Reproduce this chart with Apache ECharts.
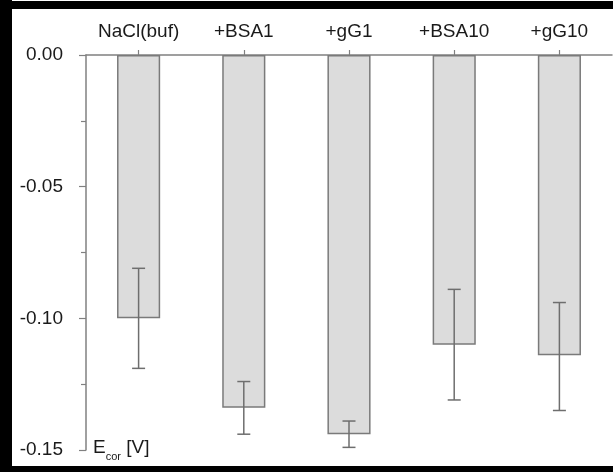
<!DOCTYPE html>
<html>
<head>
<meta charset="utf-8">
<script src="https://cdn.jsdelivr.net/npm/echarts@6/dist/echarts.min.js"></script>
<style>
html,body{margin:0;padding:0;background:#fff;}
#chart{width:613px;height:472px;}
</style>
</head>
<body>
<div id="chart"></div>
<script>
const categories = ['NaCl(buf)', '+BSA1', '+gG1', '+BSA10', '+gG10'];
const meanValues = [-0.100, -0.134, -0.144, -0.110, -0.114];
const errUpper = [-0.081, -0.124, -0.139, -0.089, -0.094];
const errLower = [-0.119, -0.144, -0.149, -0.131, -0.135];
const yTicks = [0, -0.05, -0.10, -0.15];

const errData = categories.map((c, i) => [i, errLower[i], errUpper[i]]);
const font = 'Liberation Sans, Arial, sans-serif';
const axisColor = '#808080';

const chart = echarts.init(document.getElementById('chart'), null, {renderer: 'canvas'});
chart.setOption({
  animation: false,
  backgroundColor: '#ffffff',
  grid: {left: 86, right: 1, top: 55, bottom: 22, containLabel: false},
  xAxis: {
    type: 'category',
    position: 'top',
    data: categories,
    boundaryGap: true,
    axisLine: {show: true, lineStyle: {color: axisColor, width: 1.5}},
    axisTick: {show: true, alignWithLabel: true, interval: 0, inside: false, length: 5, lineStyle: {color: axisColor, width: 1.2}},
    axisLabel: {show: true, interval: 0, hideOverlap: false, margin: 14, color: '#1a1a1a', fontSize: 19, fontFamily: font},
    splitLine: {show: false}
  },
  yAxis: {
    type: 'value',
    min: -0.15,
    max: 0,
    interval: 0.05,
    axisLine: {show: true, lineStyle: {color: axisColor, width: 1.5}},
    axisTick: {show: true, inside: false, length: 7, lineStyle: {color: axisColor, width: 1.2}},
    minorTick: {show: true, splitNumber: 2, length: 5, lineStyle: {color: axisColor, width: 1.2}},
    axisLabel: {
      margin: 23, color: '#1a1a1a', fontSize: 19, fontFamily: font,
      formatter: v => {
        const t = yTicks.find(k => Math.abs(k - v) < 1e-9);
        return (t === undefined ? v : t).toFixed(2);
      }
    },
    splitLine: {show: false}
  },
  series: [
    {
      type: 'bar',
      data: meanValues,
      barWidth: '41%',
      itemStyle: {color: '#dcdcdc', borderColor: '#7a7a7a', borderWidth: 1.5},
      z: 2
    },
    {
      type: 'custom',
      data: errData,
      encode: {x: 0, y: [1, 2]},
      z: 3,
      renderItem: function (params, api) {
        const i = api.value(0);
        const lo = api.coord([i, api.value(1)]);
        const hi = api.coord([i, api.value(2)]);
        const hw = 6.5;
        const st = {stroke: '#6e6e6e', lineWidth: 1.5};
        return {
          type: 'group',
          children: [
            {type: 'line', shape: {x1: lo[0], y1: lo[1], x2: hi[0], y2: hi[1]}, style: st},
            {type: 'line', shape: {x1: lo[0] - hw, y1: lo[1], x2: lo[0] + hw, y2: lo[1]}, style: st},
            {type: 'line', shape: {x1: hi[0] - hw, y1: hi[1], x2: hi[0] + hw, y2: hi[1]}, style: st}
          ]
        };
      }
    }
  ],
  graphic: [
    {type: 'rect', left: 0, top: 0, shape: {x: 0, y: 0, width: 12, height: 472}, style: {fill: '#000'}, z: 100},
    {type: 'rect', left: 0, top: 1, shape: {x: 0, y: 0, width: 613, height: 8}, style: {fill: '#000'}, z: 100},
    {type: 'rect', left: 0, top: 466, shape: {x: 0, y: 0, width: 613, height: 6}, style: {fill: '#000'}, z: 100},
    {
      type: 'text', left: 93, top: 438, z: 50,
      style: {
        text: '{a|E}{b|cor}{a| [V]}',
        rich: {
          a: {fontSize: 19, fontFamily: font, fill: '#1a1a1a', lineHeight: 22, verticalAlign: 'bottom'},
          b: {fontSize: 11, fontFamily: font, fill: '#1a1a1a', lineHeight: 22, verticalAlign: 'bottom', padding: [0, 0, -5, 0]}
        }
      }
    }
  ]
});
</script>
</body>
</html>
